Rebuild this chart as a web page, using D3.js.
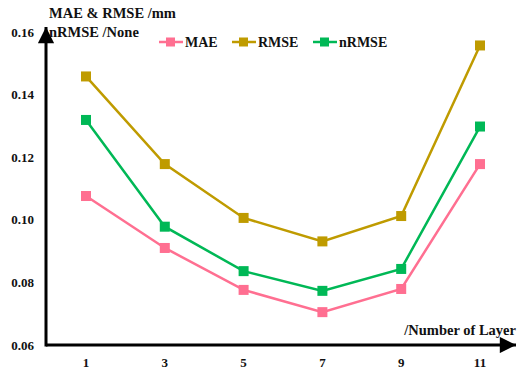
<!DOCTYPE html>
<html>
<head>
<meta charset="utf-8">
<script src="https://cdn.jsdelivr.net/npm/d3@7"></script>
<style>
  body { margin: 0; background: #fff; }
  text { font-family: "Liberation Serif", "Times New Roman", serif; font-weight: bold; fill: #111; }
</style>
</head>
<body>
<div id="chart"></div>
<script>
var layers = [1, 3, 5, 7, 9, 11];
var mae   = [0.1076, 0.0910, 0.0776, 0.0705, 0.0779, 0.1178];
var rmse  = [0.1458, 0.1178, 0.1006, 0.0931, 0.1012, 0.1557];
var nrmse = [0.1319, 0.0978, 0.0836, 0.0773, 0.0843, 0.1298];
var yTicks = [0.06, 0.08, 0.10, 0.12, 0.14, 0.16];
var seriesNames = ["MAE", "RMSE", "nRMSE"];
var seriesColors = ["#ff6f91", "#bf9b00", "#00b856"];

var width = 517, height = 369;
var margin = {top: 32, right: 37, bottom: 24, left: 46};

var svg = d3.select("#chart")
    .append("svg")
    .attr("width", width)
    .attr("height", height);

var x = d3.scalePoint()
    .domain(layers)
    .range([86, 480]);
var y = d3.scaleLinear()
    .domain([0.06, 0.16])
    .range([height - 24, 32]);

// arrow marker
var defs = svg.append("defs");
defs.append("marker")
    .attr("id", "arrow")
    .attr("viewBox", "0 0 10 10")
    .attr("refX", 10).attr("refY", 5)
    .attr("markerWidth", 6).attr("markerHeight", 5.4)
    .attr("markerUnits", "strokeWidth")
    .attr("orient", "auto")
    .append("path")
    .attr("d", "M0,0 L10,5 L0,10 Z")
    .attr("fill", "#000");

// axes lines
svg.append("line")
    .attr("x1", margin.left).attr("y1", y(0.06))
    .attr("x2", width - 1).attr("y2", y(0.06))
    .attr("stroke", "#000").attr("stroke-width", 3)
    .attr("marker-end", "url(#arrow)");
svg.append("line")
    .attr("x1", margin.left).attr("y1", y(0.06) + 1.5)
    .attr("x2", margin.left).attr("y2", 27)
    .attr("stroke", "#000").attr("stroke-width", 3)
    .attr("marker-end", "url(#arrow)");

// y tick labels
svg.selectAll(".ylab")
    .data(yTicks)
    .enter().append("text")
    .attr("x", 34)
    .attr("y", function(d) { return y(d); })
    .attr("dy", "0.35em")
    .attr("text-anchor", "end")
    .attr("font-size", 13)
    .text(function(d) { return d3.format(".2f")(d); });

// x tick labels
svg.selectAll(".xlab")
    .data(layers)
    .enter().append("text")
    .attr("x", function(d) { return x(d); })
    .attr("y", 362)
    .attr("dy", "0.35em")
    .attr("text-anchor", "middle")
    .attr("font-size", 13)
    .text(function(d) { return d; });

// axis titles
svg.append("text").attr("x", 49).attr("y", 18).attr("font-size", 14.5).text("MAE & RMSE /mm");
svg.append("text").attr("x", 49).attr("y", 37).attr("font-size", 14.5).text("nRMSE /None");
svg.append("text").attr("x", 516).attr("y", 335).attr("text-anchor", "end")
    .attr("font-size", 14.5).text("/Number of Layer");

// series
var allSeries = [mae, rmse, nrmse];
var valueline = d3.line()
    .x(function(d, i) { return x(layers[i]); })
    .y(function(d) { return y(d); });

allSeries.forEach(function(vals, k) {
    svg.append("path")
        .datum(vals)
        .attr("fill", "none")
        .attr("stroke", seriesColors[k])
        .attr("stroke-width", 2.5)
        .attr("d", valueline);
    svg.selectAll(".m" + k)
        .data(vals)
        .enter().append("rect")
        .attr("x", function(d, i) { return x(layers[i]) - 5; })
        .attr("y", function(d) { return y(d) - 5; })
        .attr("width", 10).attr("height", 10)
        .attr("fill", seriesColors[k]);
});

// legend
var legendX = [159, 232, 313];
seriesNames.forEach(function(name, k) {
    var g = svg.append("g").attr("transform", "translate(" + legendX[k] + ",42)");
    g.append("line").attr("x1", 0).attr("x2", 24).attr("y1", 0).attr("y2", 0)
        .attr("stroke", seriesColors[k]).attr("stroke-width", 2.5);
    g.append("rect").attr("x", 7).attr("y", -4.5).attr("width", 9).attr("height", 9)
        .attr("fill", seriesColors[k]);
    g.append("text").attr("x", 26).attr("y", 0).attr("dy", "0.35em")
        .attr("font-size", 14).text(name);
});
</script>
</body>
</html>
